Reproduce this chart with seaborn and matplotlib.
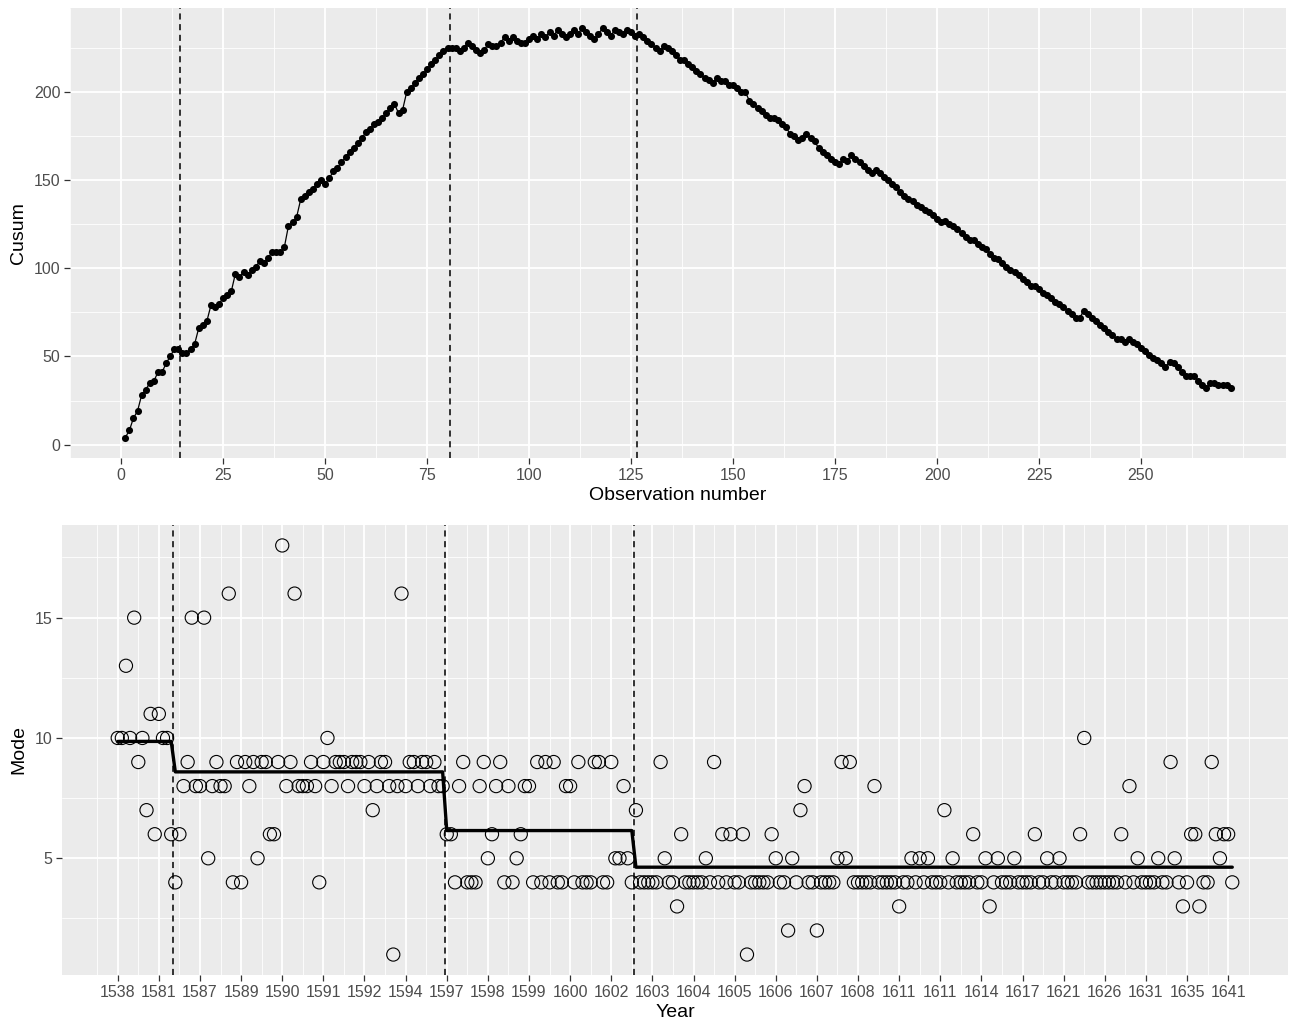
import matplotlib
matplotlib.use('Agg')
import matplotlib.pyplot as plt
from matplotlib.ticker import MultipleLocator, FixedLocator
import numpy as np
import pandas as pd
import seaborn as sns

# mode values, one list per segment
mode_seg1 = [10, 10, 13, 10, 15, 9, 10, 7, 11, 6, 11, 10, 10, 6]
mode_seg2 = [4, 6, 8, 9, 15, 8, 8, 15, 5, 8,
             9, 8, 8, 16, 4, 9, 4, 9, 8, 9,
             5, 9, 9, 6, 6, 9, 18, 8, 9, 16,
             8, 8, 8, 9, 8, 4, 9, 10, 8, 9,
             9, 9, 8, 9, 9, 9, 8, 9, 7, 8,
             9, 9, 8, 1, 8, 16, 8, 9, 9, 8,
             9, 9, 8, 9, 8, 8]
mode_seg3 = [6, 6, 4, 8, 9, 4, 4, 4, 8, 9,
             5, 6, 8, 9, 4, 8, 4, 5, 6, 8,
             8, 4, 9, 4, 9, 4, 9, 4, 4, 8,
             8, 4, 9, 4, 4, 4, 9, 9, 4, 4,
             9, 5, 5, 8, 5, 4]
mode_seg4 = [7, 4, 4, 4, 4, 4, 9, 5, 4, 4,
             3, 6, 4, 4, 4, 4, 4, 5, 4, 9,
             4, 6, 4, 6, 4, 4, 6, 1, 4, 4,
             4, 4, 4, 6, 5, 4, 4, 2, 5, 4,
             7, 8, 4, 4, 2, 4, 4, 4, 4, 5,
             9, 5, 9, 4, 4, 4, 4, 4, 8, 4,
             4, 4, 4, 4, 3, 4, 4, 5, 4, 5,
             4, 5, 4, 4, 4, 7, 4, 5, 4, 4,
             4, 4, 6, 4, 4, 5, 3, 4, 5, 4,
             4, 4, 5, 4, 4, 4, 4, 6, 4, 4,
             5, 4, 4, 5, 4, 4, 4, 4, 6, 10,
             4, 4, 4, 4, 4, 4, 4, 4, 6, 4,
             8, 4, 5, 4, 4, 4, 4, 5, 4, 4,
             9, 5, 4, 3, 4, 6, 6, 3, 4, 4,
             9, 6, 5, 6, 6, 4]

cusum_target = 6
change_points = [14, 80, 126]

year_labels = ['1538', '1581', '1587', '1589', '1590', '1591', '1592', '1594',
               '1597', '1598', '1599', '1600', '1602', '1603', '1604', '1605',
               '1606', '1607', '1608', '1611', '1611', '1614', '1617', '1621',
               '1626', '1631', '1635', '1641']

segments = [mode_seg1, mode_seg2, mode_seg3, mode_seg4]
mode = np.concatenate([np.array(s, dtype=float) for s in segments])
obs = np.arange(1, len(mode) + 1)
fit = np.concatenate([np.full(len(s), np.mean(s)) for s in segments])

df = pd.DataFrame({'obs': obs, 'mode': mode, 'fit': fit})
df['cusum'] = np.cumsum(df['mode'] - cusum_target)

sns.set_theme(style='darkgrid', rc={
    'axes.facecolor': '#EBEBEB',
    'grid.color': 'white',
    'axes.edgecolor': 'none',
})
plt.rcParams['font.family'] = ['Liberation Sans', 'DejaVu Sans']

fig = plt.figure(figsize=(12.91, 10.23), dpi=100)
ax1 = fig.add_axes([70 / 1291, 1 - 458 / 1023, 1216 / 1291, 450 / 1023])
ax2 = fig.add_axes([62 / 1291, 1 - 975 / 1023, 1226 / 1291, 450 / 1023])


def expand(lo, hi, f=0.05):
    pad = (hi - lo) * f
    return lo - pad, hi + pad


def style(ax):
    ax.set_axisbelow(True)
    for s in ax.spines.values():
        s.set_visible(False)
    ax.grid(which='major', color='white', lw=1.3)
    ax.grid(which='minor', color='white', lw=0.6)
    ax.tick_params(which='major', length=4, width=0.9, color='#333333',
                   labelsize=11.5, labelcolor='#4D4D4D', pad=3,
                   bottom=True, left=True)
    ax.tick_params(which='minor', length=0)


# top: cusum
sns.lineplot(data=df, x='obs', y='cusum', color='black', lw=0.9,
             estimator=None, ax=ax1)
sns.scatterplot(data=df, x='obs', y='cusum', color='black', s=26,
                linewidth=0, ax=ax1)
for cp in change_points:
    ax1.axvline(cp + 0.5, color='black', lw=1.1, ls=(0, (4, 3)))
ax1.set_xlim(*expand(obs.min(), obs.max()))
ax1.set_ylim(*expand(df['cusum'].min(), df['cusum'].max()))
ax1.xaxis.set_major_locator(FixedLocator(np.arange(0, 251, 25)))
ax1.xaxis.set_minor_locator(FixedLocator(np.arange(-12.5, 290, 12.5)))
ax1.yaxis.set_major_locator(MultipleLocator(50))
ax1.yaxis.set_minor_locator(MultipleLocator(25))
style(ax1)
ax1.set_xlabel('Observation number', fontsize=14, color='black', labelpad=3)
ax1.set_ylabel('Cusum', fontsize=14, color='black', labelpad=5)

# bottom: mode with segment means
sns.scatterplot(data=df, x='obs', y='mode', facecolor='none',
                edgecolor='black', s=90, linewidth=0.8, ax=ax2)
sns.lineplot(data=df, x='obs', y='fit', color='black', lw=2.4,
             estimator=None, ax=ax2)
for cp in change_points:
    ax2.axvline(cp + 0.5, color='black', lw=1.1, ls=(0, (4, 3)))
ax2.set_xlim(*expand(obs.min(), obs.max()))
ax2.set_ylim(*expand(df['mode'].min(), df['mode'].max()))
major_x = obs[::10]
ax2.xaxis.set_major_locator(FixedLocator(major_x))
ax2.set_xticklabels(year_labels)
ax2.xaxis.set_minor_locator(FixedLocator(np.arange(-4, 290, 10)))
ax2.yaxis.set_major_locator(MultipleLocator(5))
ax2.yaxis.set_minor_locator(MultipleLocator(2.5))
style(ax2)
ax2.set_xlabel('Year', fontsize=14, color='black', labelpad=3)
ax2.set_ylabel('Mode', fontsize=14, color='black', labelpad=5)

fig.savefig('out.png', dpi=100)
plt.close(fig)
